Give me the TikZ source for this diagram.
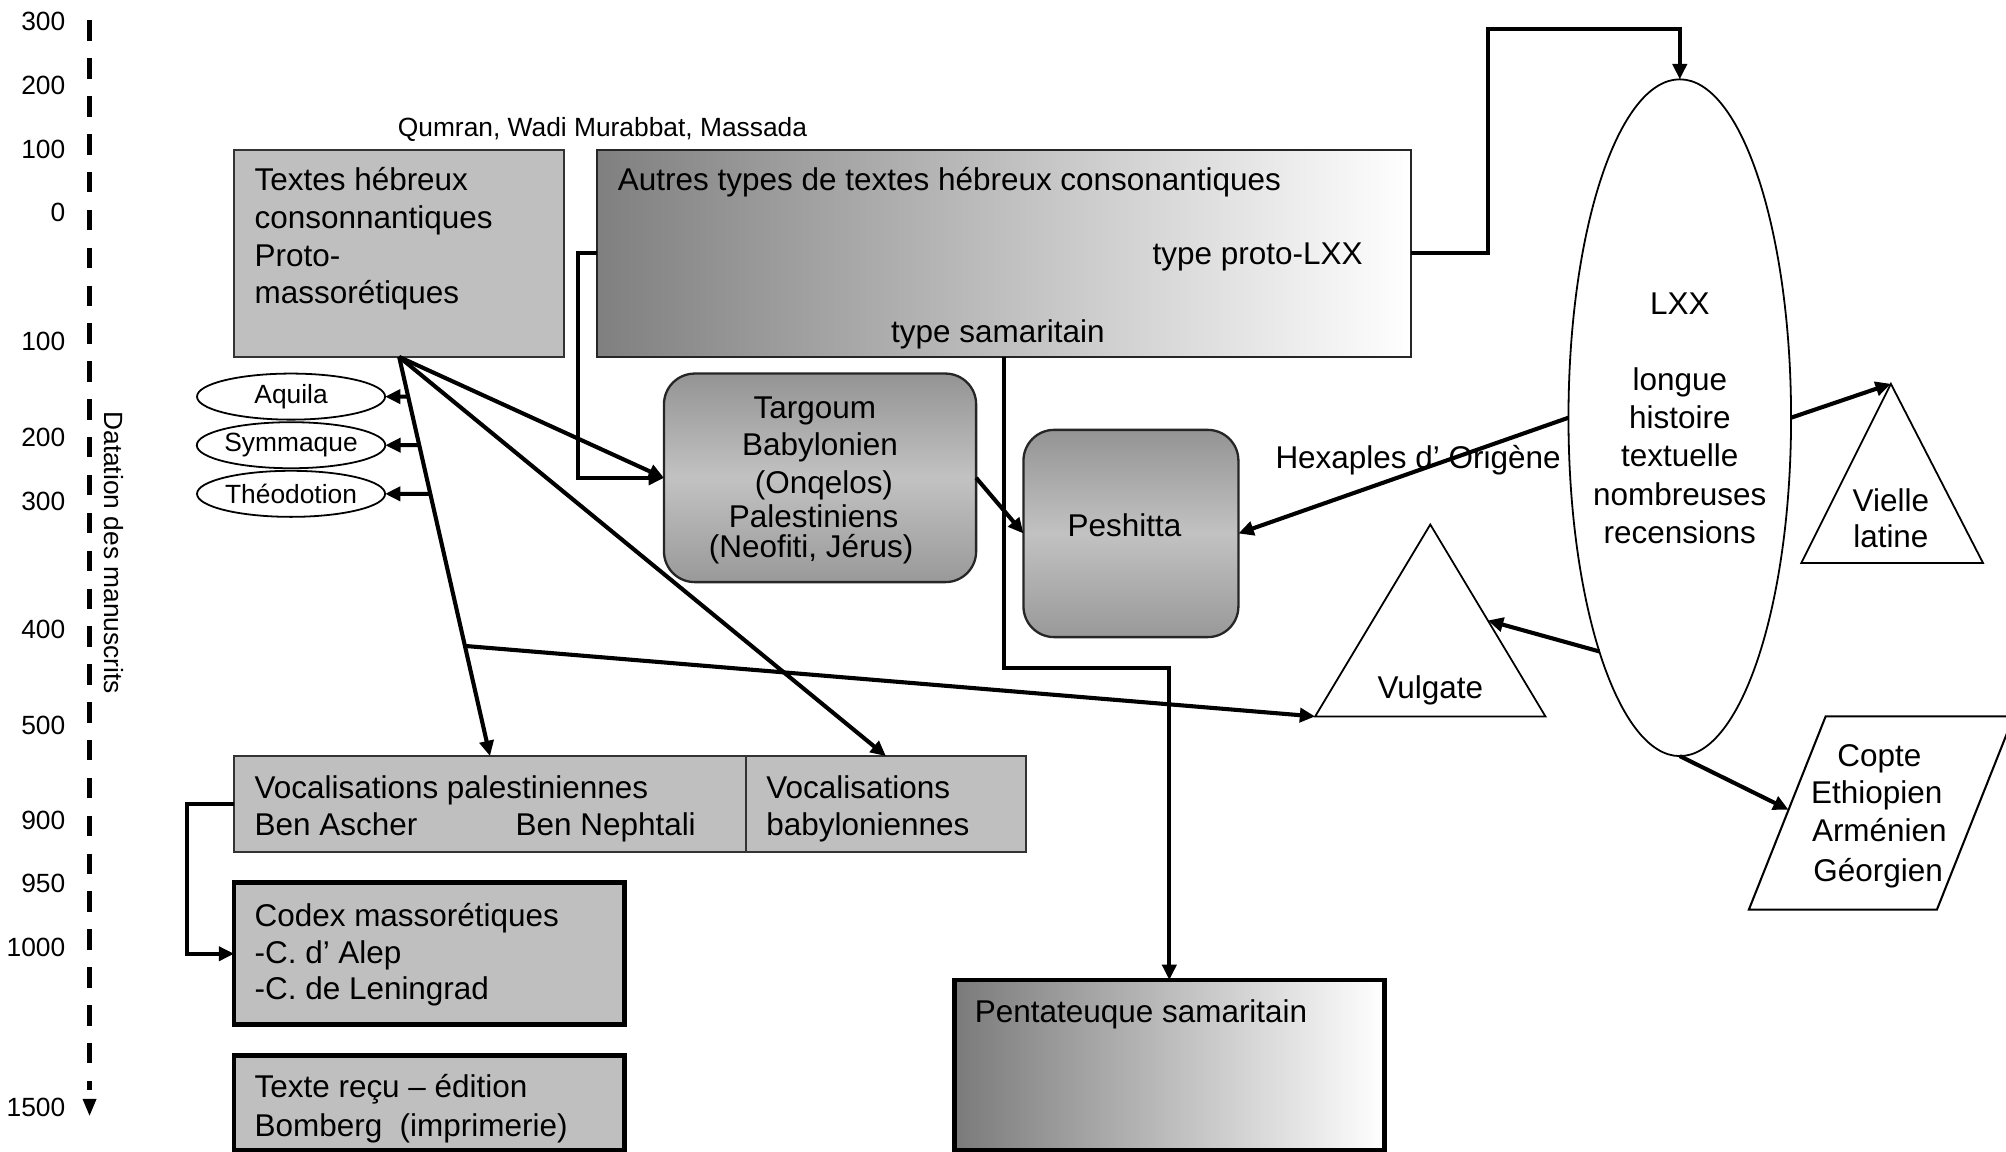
\documentclass[tikz,border=0pt]{standalone}
\usepackage{fontspec}
\setmainfont{Liberation Sans}
\usetikzlibrary{arrows.meta,shapes.geometric,calc}
\begin{document}
\begin{tikzpicture}[x=0.5pt,y=-0.5pt,
  every node/.style={inner sep=0pt, outer sep=0pt},
  big/.style={font=\fontsize{12.3pt}{15pt}\selectfont},
  small/.style={font=\fontsize{10.3pt}{12.5pt}\selectfont},
  gbox/.style={draw=black!80, line width=0.8pt, fill=black!25, rectangle},
  tbox/.style={draw=black, line width=1.8pt, fill=black!25, rectangle},
  hbox/.style={draw=black!85, line width=0.8pt, rectangle, left color=black!50, right color=white},
  thbox/.style={draw=black, line width=1.8pt, rectangle, left color=black!52, right color=white},
  rbox/.style={draw=black!85, line width=0.9pt, rectangle, rounded corners=12pt, top color=black!42, bottom color=black!40, middle color=black!24},
  oval/.style={draw, ellipse, line width=0.7pt, small},
  conn/.style={line width=1.6pt, -{Triangle[length=6pt,width=5.5pt]}},
  shp/.style={draw, line width=0.7pt},
  lt/.style={big, anchor=base west},
  ct/.style={big, anchor=base}
]
\useasboundingbox (0,0) rectangle (1568,900);
\fill[white] (0,0) rectangle (1568,900);
\clip (0,0) rectangle (1568,900);

% time axis
\draw[line width=1.8pt, dash pattern=on 8pt off 6.8pt] (70,16) -- (70,852);
\fill (64.5,859) -- (75.5,859) -- (70,872) -- cycle;
\foreach \v/\y [count=\i] in {300/24,200/74,100/124,0/173,100/274,200/349,300/399,400/499,500/574,900/648,950/698,1000/748,1500/873}
  \node[small, anchor=base east] (ax\i) at (51,\y) {\v};
\node[small, rotate=-90] (dat) at (89,432) {Datation des manuscrits};

\node[small, anchor=base west] (qum) at (311,107) {Qumran, Wadi Murabbat, Massada};

% boxes
\node[gbox, minimum width=129pt, minimum height=81pt] (box1) at (312,198) {};
\node[lt] (b1a) at (199,149) {Textes hébreux};
\node[lt] (b1b) at (199,178.5) {consonnantiques};
\node[lt] (b1c) at (199,208) {Proto-};
\node[lt] (b1d) at (199,237.5) {massorétiques};

\node[hbox, minimum width=318pt, minimum height=81pt] (box2) at (785,198) {};
\node[lt] (b2a) at (483,149) {Autres types de textes hébreux consonantiques};
\node[lt] (b2b) at (901,207) {type proto-LXX};
\node[ct] (b2c) at (780,268) {type samaritain};

\node[rbox, minimum width=122pt, minimum height=81.5pt] (targ) at (641,373.5) {};
\node[ct] (tg1) at (637,327) {Targoum};
\node[ct] (tg2) at (641,356) {Babylonien};
\node[ct] (tg3) at (644,386) {(Onqelos)};
\node[ct] (tg4) at (636,412) {Palestiniens};
\node[ct] (tg5) at (634,436) {(Neofiti, Jérus)};

\node[rbox, minimum width=84pt, minimum height=81pt] (pesh) at (884,417) {};
\node[ct] (pesht) at (879,419) {Peshitta};

\node[gbox, minimum width=200pt, minimum height=37.5pt] (vocpal) at (383,628.5) {};
\node[lt] (vp1) at (199,624) {Vocalisations palestiniennes};
\node[lt] (vp2) at (199,653) {Ben Ascher};
\node[lt] (vp3) at (403,653) {Ben Nephtali};

\node[gbox, minimum width=109.5pt, minimum height=37.5pt] (vocbab) at (692.5,628.5) {};
\node[lt] (vb1) at (599,624) {Vocalisations};
\node[lt] (vb2) at (599,653) {babyloniennes};

\node[tbox, minimum width=152.5pt, minimum height=55.5pt] (codex) at (335.5,745.5) {};
\node[lt] (cx1) at (199,724) {Codex massorétiques};
\node[lt] (cx2) at (199,753) {-C. d’ Alep};
\node[lt] (cx3) at (199,781) {-C. de Leningrad};

\node[tbox, minimum width=152.5pt, minimum height=37pt] (recu) at (335.5,862) {};
\node[lt] (tr1) at (199,858) {Texte reçu – édition};
\node[lt] (tr2) at (199,888) {Bomberg\ \ (imprimerie)};

\node[thbox, minimum width=168pt, minimum height=66.5pt] (penta) at (914,832.5) {};
\node[lt] (pt1) at (762,799) {Pentateuque samaritain};

% ellipses
\node[oval, minimum width=73.5pt, minimum height=18pt] (aq) at (227.5,310) {Aquila};
\node[oval, minimum width=73.5pt, minimum height=18pt] (sy) at (227.5,348) {Symmaque};
\node[oval, minimum width=73.5pt, minimum height=18pt] (th) at (227.5,386) {Théodotion};

\node[shp, ellipse, minimum width=87pt, minimum height=264.5pt] (LXX) at (1313,326.5) {};
\node[ct] (lx1) at (1313,246) {LXX};
\node[ct] (lx2) at (1313,305) {longue};
\node[ct] (lx3) at (1313,335) {histoire};
\node[ct] (lx4) at (1313,365) {textuelle};
\node[ct] (lx5) at (1313,395) {nombreuses};
\node[ct] (lx6) at (1313,425) {recensions};

% triangles and parallelogram
\coordinate (vlA) at (1478,300);
\coordinate (vlBL) at (1408,440);
\coordinate (vlBR) at (1550,440);
\draw[shp] (vlA) -- (vlBL) -- (vlBR) -- cycle;
\node[ct] (vl1) at (1478,400) {Vielle};
\node[ct] (vl2) at (1478,428) {latine};

\coordinate (vuA) at (1118,410);
\coordinate (vuBL) at (1028,560);
\coordinate (vuBR) at (1208,560);
\coordinate (vuR) at ($(vuA)!0.5!(vuBR)$);
\draw[shp] (vuA) -- (vuBL) -- (vuBR) -- cycle;
\node[ct] (vut) at (1118,546) {Vulgate};

\coordinate (p1) at (1427,560);
\coordinate (p2) at (1574,560);
\coordinate (p3) at (1514,711);
\coordinate (p4) at (1367,711);
\coordinate (coL) at ($(p1)!0.483!(p4)$);
\draw[shp, line width=0.8pt] (p1) -- (p2) -- (p3) -- (p4) -- cycle;
\node[ct] (co1) at (1469,599) {Copte};
\node[ct] (co2) at (1467,628) {Ethiopien};
\node[ct] (co3) at (1469,658) {Arménien};
\node[ct] (co4) at (1468,689) {Géorgien};

\node[big, anchor=base west] (hex) at (997,366) {Hexaples d’ Origène};

% connectors
\draw[conn] (box2.west) -- ++(-15,0) |- (targ.west);
\draw[conn] (box1.south) -- (targ.west);
\draw[conn] (box1.south) -- (vocpal.north);
\draw[conn] (box1.south) -- (vocbab.north);
\draw[conn] ($(box1.south)!0.0994!(vocpal.north)$) -- (aq.east);
\draw[conn] ($(box1.south)!0.221!(vocpal.north)$) -- (sy.east);
\draw[conn] ($(box1.south)!0.343!(vocpal.north)$) -- (th.east);
\draw[conn] ($(box1.south)!0.724!(vocpal.north)$) -- (vuBL);
\draw[conn] (targ.east) -- (pesh.west);
\draw[conn] (box2.south) -- ++(0,243) -| (penta.north);
\draw[conn] (box2.east) -- ++(60,0) |- ($(LXX.north)+(0,-39)$) -- (LXX.north);
\draw[conn] (LXX.west) -- (pesh.east);
\draw[conn] (LXX.east) -- (vlA);
\draw[conn] (LXX.251.9) -- (vuR);
\draw[conn] (LXX.south) -- (coL);
\draw[conn] (vocpal.west) -- ++(-37,0) |- (codex.west);
\end{tikzpicture}
\end{document}
